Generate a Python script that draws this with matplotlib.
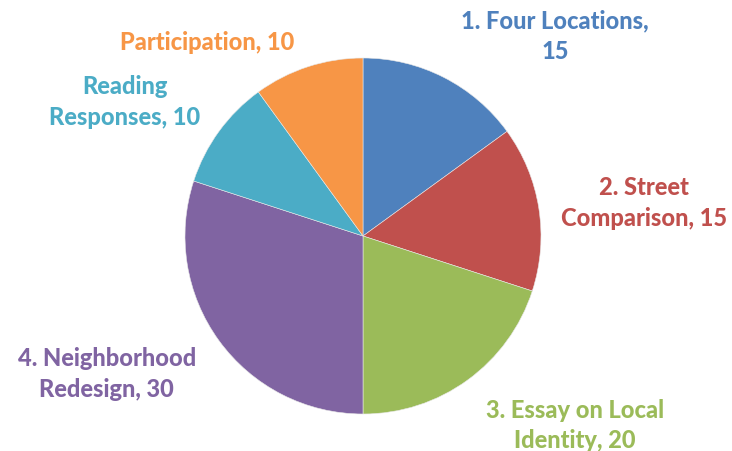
import matplotlib
matplotlib.use("Agg")
import matplotlib.pyplot as plt

categories = ["1. Four Locations,\n15", "2. Street\nComparison, 15", "3. Essay on Local\nIdentity, 20",
              "4. Neighborhood\nRedesign, 30", "Reading\nResponses, 10", "Participation, 10"]
values = [15, 15, 20, 30, 10, 10]
colors = ["#4F81BD", "#C0504D", "#9BBB59", "#8064A2", "#4BACC6", "#F79646"]
label_pos = [(1.08, 1.13), (1.58, 0.19), (1.19, -1.06), (-1.44, -0.77), (-1.34, 0.76), (-0.876, 1.095)]

W, H = 732, 452
fig = plt.figure(figsize=(W / 100, H / 100), dpi=100)
cx, cy, r = 363, 237, 178
ax = fig.add_axes([(cx - r) / W, (H - cy - r) / H, 2 * r / W, 2 * r / H])
ax.pie(values, colors=colors, startangle=90, counterclock=False, radius=1,
       wedgeprops=dict(linewidth=0.4, edgecolor="#e8e8e8"))
ax.set_xlim(-1, 1)
ax.set_ylim(-1, 1)
ax.set_aspect("equal")
ax.axis("off")
for lab, (x, y), c in zip(categories, label_pos, colors):
    ax.text(x, y, lab, ha="center", va="center", color=c, fontsize=17, fontweight=900,
            family="Lato", linespacing=1.4, clip_on=False)
fig.savefig("out.png", dpi=100)
